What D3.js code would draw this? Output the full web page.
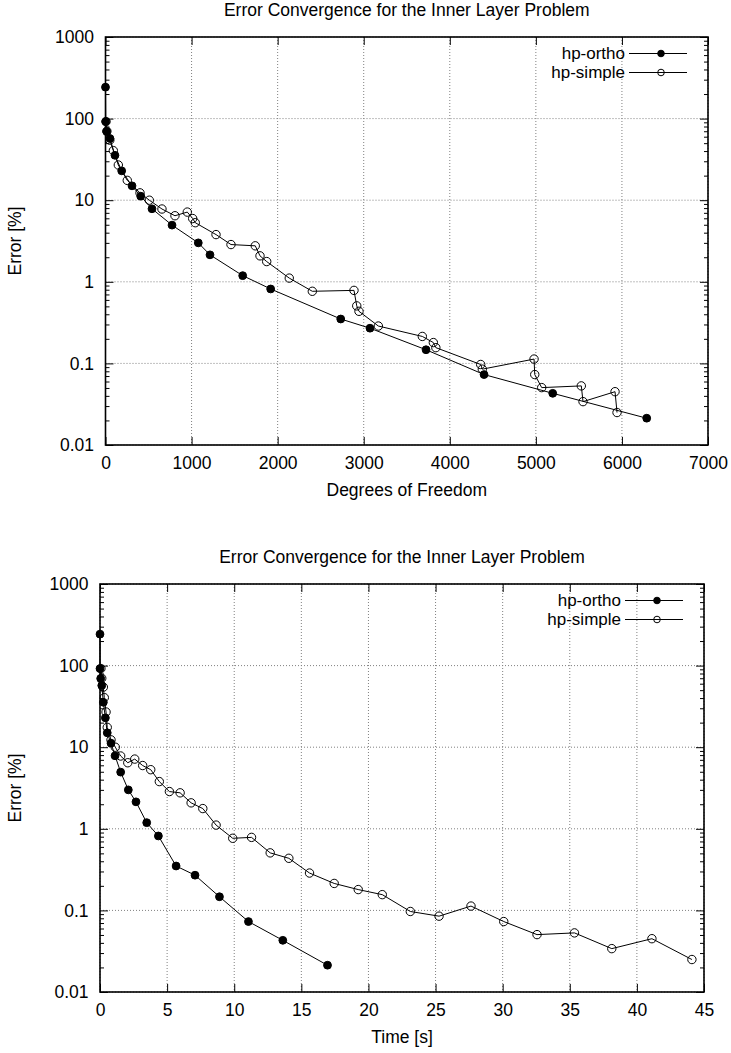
<!DOCTYPE html>
<html>
<head>
<meta charset="utf-8">
<script src="https://cdn.jsdelivr.net/npm/d3@7"></script>
<style>
  body { margin: 0; background: #fff; }
  svg { display: block; font-family: "Liberation Sans", Arial, sans-serif; }
</style>
</head>
<body>
<div id="chart"></div>
<script>
// ---- data ----
const seriesNames = ['hp-ortho', 'hp-simple'];
const title = 'Error Convergence for the Inner Layer Problem';

const orthoDof = [0, 3, 14, 52, 110, 188, 308, 409, 540, 773, 1078, 1214, 1594, 1919, 2733, 3073, 3724, 4398, 5196, 6288];
const orthoTime = [0, 0, 0.05, 0.13, 0.25, 0.4, 0.54, 0.82, 1.12, 1.54, 2.11, 2.68, 3.48, 4.35, 5.67, 7.08, 8.9, 11.06, 13.62, 16.95];
const orthoErr = [243, 92, 69.5, 57, 35.5, 22.9, 15, 11.2, 7.85, 4.95, 3.0, 2.14, 1.19, 0.817, 0.35, 0.27, 0.147, 0.073, 0.043, 0.0213];

const simpleDof = [6, 16, 50, 91, 149, 253, 401, 509, 656, 807, 950, 1013, 1043, 1284, 1458, 1740, 1795, 1873, 2135, 2403, 2887, 2919, 2945, 3170, 3681, 3809, 3838, 4359, 4378, 4979, 4987, 5068, 5528, 5548, 5920, 5943];
const simpleTime = [0.07, 0.13, 0.25, 0.32, 0.45, 0.54, 0.82, 1.14, 1.54, 2.07, 2.59, 3.18, 3.78, 4.42, 5.17, 5.97, 6.79, 7.66, 8.65, 9.89, 11.29, 12.68, 14.07, 15.61, 17.45, 19.24, 21.03, 23.12, 25.26, 27.64, 30.08, 32.56, 35.35, 38.13, 41.12, 44.1];
const simpleErr = [92, 70, 54.5, 40.5, 27, 17.5, 12.3, 10, 7.8, 6.45, 7.15, 5.96, 5.3, 3.79, 2.86, 2.76, 2.08, 1.77, 1.11, 0.765, 0.785, 0.507, 0.435, 0.287, 0.214, 0.18, 0.156, 0.097, 0.085, 0.113, 0.073, 0.0505, 0.053, 0.034, 0.045, 0.025];

const yTicks = [0.01, 0.1, 1, 10, 100, 1000];
const dofTicks = [0, 1000, 2000, 3000, 4000, 5000, 6000, 7000];
const timeTicks = [0, 5, 10, 15, 20, 25, 30, 35, 40, 45];

// minor ticks on the log axis: 2..9 in each decade
const yMinor = [];
for (let k = -2; k <= 2; k++) {
  for (let m = 2; m <= 9; m++) yMinor.push(+(m * Math.pow(10, k)).toPrecision(3));
}

const W = 731, H = 1053;
const FONT = 17.5;

const svg = d3.select('#chart').append('svg')
  .attr('width', W)
  .attr('height', H);

svg.append('rect').attr('width', W).attr('height', H).attr('fill', '#fff');

function zip(xs, ys) {
  return xs.map((x, i) => ({ x: x, y: ys[i] }));
}

function drawPanel(cfg) {
  const innerW = cfg.right - cfg.left;
  const innerH = cfg.bottom - cfg.top;

  const x = d3.scaleLinear().domain(cfg.xDomain).range([0, innerW]);
  const y = d3.scaleLog().domain([0.01, 1000]).range([innerH, 0]);

  const g = svg.append('g')
    .attr('transform', `translate(${cfg.left},${cfg.top})`);

  // Grid (dotted)
  const grid = g.append('g').attr('class', 'grid');
  grid.selectAll('.vgrid')
    .data(cfg.xTicks)
    .enter().append('line')
    .attr('x1', d => x(d)).attr('x2', d => x(d))
    .attr('y1', 0).attr('y2', innerH);
  grid.selectAll('.hgrid')
    .data(yTicks)
    .enter().append('line')
    .attr('x1', 0).attr('x2', innerW)
    .attr('y1', d => y(d)).attr('y2', d => y(d));
  grid.selectAll('line')
    .attr('stroke', '#808080')
    .attr('stroke-width', 1)
    .attr('stroke-dasharray', '1,2');

  // Axes: ticks pointing inward on all four sides
  const xBottom = g.append('g')
    .attr('transform', `translate(0,${innerH})`)
    .call(d3.axisBottom(x).tickValues(cfg.xTicks).tickFormat(d3.format('d'))
      .tickSize(-8).tickPadding(11.5));
  const xTop = g.append('g')
    .call(d3.axisTop(x).tickValues(cfg.xTicks).tickFormat('').tickSize(-8));

  const yLeft = g.append('g')
    .call(d3.axisLeft(y).tickValues(yTicks).tickFormat(d => String(d))
      .tickSize(-8).tickPadding(11.5));
  const yRight = g.append('g')
    .attr('transform', `translate(${innerW},0)`)
    .call(d3.axisRight(y).tickValues(yTicks).tickFormat('').tickSize(-8));

  const yLeftMinor = g.append('g')
    .call(d3.axisLeft(y).tickValues(yMinor).tickFormat('').tickSize(-4));
  const yRightMinor = g.append('g')
    .attr('transform', `translate(${innerW},0)`)
    .call(d3.axisRight(y).tickValues(yMinor).tickFormat('').tickSize(-4));

  [xBottom, xTop, yLeft, yRight, yLeftMinor, yRightMinor].forEach(ax => {
    ax.select('.domain').remove();
    ax.selectAll('line').attr('stroke', '#000').attr('stroke-width', 1);
    ax.selectAll('text')
      .attr('fill', '#000')
      .attr('font-size', FONT + 'px')
      .attr('font-family', '"Liberation Sans", Arial, sans-serif');
  });

  // Border
  g.append('rect')
    .attr('x', 0).attr('y', 0)
    .attr('width', innerW).attr('height', innerH)
    .attr('fill', 'none')
    .attr('stroke', '#000')
    .attr('stroke-width', 1.6);

  // Series
  const line = d3.line().x(d => x(d.x)).y(d => y(d.y));

  cfg.series.forEach(s => {
    g.append('path')
      .datum(s.data)
      .attr('fill', 'none')
      .attr('stroke', '#000')
      .attr('stroke-width', 1)
      .attr('d', line);

    g.selectAll(null)
      .data(s.data)
      .enter().append('circle')
      .attr('cx', d => x(d.x))
      .attr('cy', d => y(d.y))
      .attr('r', s.filled ? 3.9 : 4.2)
      .attr('fill', s.filled ? '#000' : 'none')
      .attr('stroke', '#000')
      .attr('stroke-width', 1);
  });

  // Legend (top right, inside)
  const legend = g.append('g')
    .attr('transform', `translate(${innerW},0)`);

  cfg.series.forEach((s, i) => {
    const ly = 16.5 + i * 19;
    legend.append('text')
      .attr('x', -83).attr('y', ly)
      .attr('dy', '0.35em')
      .attr('text-anchor', 'end')
      .attr('font-size', '17px')
      .text(s.name);
    legend.append('line')
      .attr('x1', -79).attr('x2', -21)
      .attr('y1', ly).attr('y2', ly)
      .attr('stroke', '#000')
      .attr('stroke-width', 1);
    legend.append('circle')
      .attr('cx', -47).attr('cy', ly)
      .attr('r', 3.3)
      .attr('fill', s.filled ? '#000' : 'none')
      .attr('stroke', '#000')
      .attr('stroke-width', 1);
  });

  // Title
  svg.append('text')
    .attr('x', cfg.left + innerW / 2)
    .attr('y', cfg.top - 21)
    .attr('text-anchor', 'middle')
    .attr('font-size', FONT + 'px')
    .text(title);

  // X label
  svg.append('text')
    .attr('x', cfg.left + innerW / 2)
    .attr('y', cfg.bottom + 50.5)
    .attr('text-anchor', 'middle')
    .attr('font-size', FONT + 'px')
    .text(cfg.xLabel);

  // Y label
  svg.append('text')
    .attr('transform', `translate(21,${cfg.top + innerH / 2}) rotate(-90)`)
    .attr('text-anchor', 'middle')
    .attr('font-size', FONT + 'px')
    .text('Error [%]');
}

drawPanel({
  left: 105.5, right: 708, top: 37, bottom: 445,
  xDomain: [0, 7000],
  xTicks: dofTicks,
  xLabel: 'Degrees of Freedom',
  series: [
    { name: seriesNames[0], filled: true, data: zip(orthoDof, orthoErr) },
    { name: seriesNames[1], filled: false, data: zip(simpleDof, simpleErr) }
  ]
});

drawPanel({
  left: 100, right: 704, top: 584, bottom: 992,
  xDomain: [0, 45],
  xTicks: timeTicks,
  xLabel: 'Time [s]',
  series: [
    { name: seriesNames[0], filled: true, data: zip(orthoTime, orthoErr) },
    { name: seriesNames[1], filled: false, data: zip(simpleTime, simpleErr) }
  ]
});
</script>
</body>
</html>
